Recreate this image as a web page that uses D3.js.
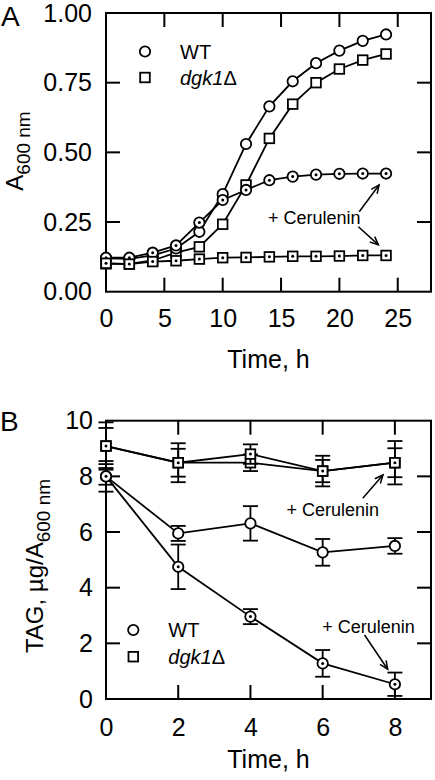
<!DOCTYPE html>
<html>
<head>
<meta charset="utf-8">
<script src="https://cdn.jsdelivr.net/npm/d3@7"></script>
<style>
  html, body { margin: 0; padding: 0; background: #fff; }
  svg { display: block; }
</style>
</head>
<body>
<svg id="chart" width="435" height="780"></svg>
<script>
// ---------- DATA ----------
// Panel A: growth (A600 nm) vs time, h
const timeA = [0, 2, 4, 6, 8, 10, 12, 14, 16, 18, 20, 22, 24];
const wtA      = [0.120, 0.118, 0.130, 0.155, 0.215, 0.350, 0.530, 0.665, 0.755, 0.820, 0.865, 0.900, 0.923];
const wtCerA   = [0.122, 0.122, 0.140, 0.166, 0.248, 0.329, 0.365, 0.400, 0.413, 0.420, 0.423, 0.424, 0.424];
const dgkA     = [0.100, 0.100, 0.112, 0.140, 0.161, 0.242, 0.383, 0.550, 0.673, 0.750, 0.799, 0.831, 0.853];
const dgkCerA  = [0.102, 0.099, 0.108, 0.111, 0.117, 0.122, 0.123, 0.125, 0.127, 0.127, 0.128, 0.130, 0.130];
const xTicksA = [0, 5, 10, 15, 20, 25];
const yTicksA = [0, 0.25, 0.50, 0.75, 1.00];

// Panel B: TAG, µg/A600 nm vs time, h (mean ± error)
const timeB = [0, 2, 4, 6, 8];
const wtB        = [8.00, 5.95, 6.31, 5.27, 5.50];
const wtBErr     = [0.55, 0.27, 0.62, 0.48, 0.28];
const wtCerB     = [8.00, 4.75, 2.96, 1.28, 0.53];
const wtCerBErr  = [0.30, 0.80, 0.27, 0.48, 0.42];
const dgkB       = [9.09, 8.49, 8.49, 8.19, 8.49];
const dgkBErr    = [0.65, 0.50, 0.30, 0.40, 0.52];
const dgkCerB    = [9.09, 8.49, 8.80, 8.19, 8.49];
const dgkCerBErr = [0.85, 0.70, 0.35, 0.55, 0.78];
const xTicksB = [0, 2, 4, 6, 8];
const yTicksB = [0, 2, 4, 6, 8, 10];

const legendLabels = ["WT", "dgk1", "Δ"];
const annotation = "+ Cerulenin";

// ---------- LAYOUT ----------
const FONT = "'Liberation Sans', Arial, Helvetica, sans-serif";
const svg = d3.select("#chart");
const SW = 2;      // axis stroke
const LW = 1.8;    // data line stroke
const TICK = 14;

function panel(cfg) {
  const g = svg.append("g");
  const x = d3.scaleLinear().domain(cfg.xDomain).range([cfg.left, cfg.right]);
  const y = d3.scaleLinear().domain(cfg.yDomain).range([cfg.bottom, cfg.top]);

  const xt = cfg.xTicks, yt = cfg.yTicks;
  const xIn = xt.filter(v => v > cfg.xDomain[0] && v < cfg.xDomain[1]);
  const yIn = yt.filter(v => v > cfg.yDomain[0] && v < cfg.yDomain[1]);

  const ax = g.append("g").attr("transform", `translate(0,${cfg.bottom})`)
    .call(d3.axisBottom(x).tickValues(xt).tickSize(0).tickPadding(cfg.xPad).tickFormat(cfg.xFmt));
  const ay = g.append("g").attr("transform", `translate(${cfg.left},0)`)
    .call(d3.axisLeft(y).tickValues(yt).tickSize(0).tickPadding(cfg.yPad).tickFormat(cfg.yFmt));
  [ax, ay].forEach(a => {
    a.select(".domain").remove();
    a.selectAll("text").attr("font-family", FONT).attr("font-size", 25).attr("fill", "#000");
  });
  const tk = g.append("g").attr("stroke", "#000").attr("stroke-width", SW);
  xIn.forEach(v => {
    tk.append("line").attr("x1", x(v)).attr("x2", x(v)).attr("y1", cfg.bottom).attr("y2", cfg.bottom - TICK);
    tk.append("line").attr("x1", x(v)).attr("x2", x(v)).attr("y1", cfg.top).attr("y2", cfg.top + TICK);
  });
  yIn.forEach(v => {
    tk.append("line").attr("y1", y(v)).attr("y2", y(v)).attr("x1", cfg.left).attr("x2", cfg.left + TICK);
    tk.append("line").attr("y1", y(v)).attr("y2", y(v)).attr("x1", cfg.right).attr("x2", cfg.right - TICK);
  });
  g.append("rect").attr("x", cfg.left).attr("y", cfg.top)
    .attr("width", cfg.right - cfg.left).attr("height", cfg.bottom - cfg.top)
    .attr("fill", "none").attr("stroke", "#000").attr("stroke-width", SW);

  g.append("text").attr("x", (cfg.left + cfg.right) / 2).attr("y", cfg.xTitleY)
    .attr("text-anchor", "middle").attr("font-family", FONT).attr("font-size", 25)
    .text("Time, h");
  g.append("text").attr("x", cfg.letterX).attr("y", cfg.letterY)
    .attr("font-family", FONT).attr("font-size", 28).text(cfg.letter);
  const yt2 = g.append("text")
    .attr("transform", `translate(${cfg.yTitleX},${cfg.yTitleY}) rotate(-90)`)
    .attr("text-anchor", "middle").attr("font-family", FONT).attr("font-size", 24);
  yt2.append("tspan").text(cfg.yTitleMain);
  yt2.append("tspan").attr("font-size", 19).attr("dy", 7).text("600 nm");

  return { g, x, y };
}

function marker(g, shape, cx, cy, dotted) {
  if (shape === "circle") {
    g.append("circle").attr("cx", cx).attr("cy", cy).attr("r", 5.2)
      .attr("fill", "#fff").attr("stroke", "#000").attr("stroke-width", LW);
  } else {
    const s = 9.6;
    g.append("rect").attr("x", cx - s / 2).attr("y", cy - s / 2).attr("width", s).attr("height", s)
      .attr("fill", "#fff").attr("stroke", "#000").attr("stroke-width", LW);
  }
  if (dotted) {
    g.append("circle").attr("cx", cx).attr("cy", cy).attr("r", 1.5).attr("fill", "#000");
  }
}

function series(p, xs, ys, shape, dotted, errs) {
  const line = d3.line().x((d, i) => p.x(xs[i])).y(d => p.y(d));
  p.g.append("path").attr("d", line(ys)).attr("fill", "none")
    .attr("stroke", "#000").attr("stroke-width", LW);
  if (errs) {
    const eg = p.g.append("g").attr("stroke", "#000").attr("stroke-width", LW);
    ys.forEach((v, i) => {
      const cx = p.x(xs[i]), lo = p.y(v - errs[i]), hi = p.y(v + errs[i]);
      eg.append("line").attr("x1", cx).attr("x2", cx).attr("y1", lo).attr("y2", hi);
      eg.append("line").attr("x1", cx - 7.5).attr("x2", cx + 7.5).attr("y1", lo).attr("y2", lo);
      eg.append("line").attr("x1", cx - 7.5).attr("x2", cx + 7.5).attr("y1", hi).attr("y2", hi);
    });
  }
  const mg = p.g.append("g");
  ys.forEach((v, i) => marker(mg, shape, p.x(xs[i]), p.y(v), dotted));
}

function arrow(p, from, to) {
  const x1 = p.x(from[0]), y1 = p.y(from[1]), x2 = p.x(to[0]), y2 = p.y(to[1]);
  const a = Math.atan2(y2 - y1, x2 - x1), L = 9, w = 0.42;
  const g = p.g.append("g").attr("stroke", "#000").attr("stroke-width", 1.5).attr("fill", "none");
  g.append("line").attr("x1", x1).attr("y1", y1).attr("x2", x2).attr("y2", y2);
  g.append("path").attr("d",
    `M${x2 - L * Math.cos(a - w)},${y2 - L * Math.sin(a - w)}L${x2},${y2}L${x2 - L * Math.cos(a + w)},${y2 - L * Math.sin(a + w)}`);
}

function note(p, t, v) {
  p.g.append("text").attr("x", p.x(t)).attr("y", p.y(v))
    .attr("font-family", FONT).attr("font-size", 18).text(annotation);
}

function legend(p, cx, cy1, cy2, tx) {
  marker(p.g, "circle", cx, cy1, false);
  marker(p.g, "square", cx, cy2, false);
  p.g.append("text").attr("x", tx).attr("y", cy1 + 7).attr("font-family", FONT)
    .attr("font-size", 20).text(legendLabels[0]);
  const t = p.g.append("text").attr("x", tx).attr("y", cy2 + 7).attr("font-family", FONT)
    .attr("font-size", 20);
  t.append("tspan").attr("font-style", "italic").text(legendLabels[1]);
  t.append("tspan").text(legendLabels[2]);
}

// ---------- PANEL A ----------
const A = panel({
  left: 106, right: 431, top: 13, bottom: 291.7,
  xDomain: [0, 27.85], yDomain: [0, 1],
  xTicks: xTicksA, yTicks: yTicksA,
  xFmt: d3.format("d"), yFmt: d3.format(".2f"),
  xPad: 18, yPad: 14, xTitleY: 367.5,
  letter: "A", letterX: 1, letterY: 26,
  yTitleX: 23, yTitleY: 151, yTitleMain: "A"
});
series(A, timeA, dgkA, "square", false);
series(A, timeA, wtA, "circle", false);
series(A, timeA, wtCerA, "circle", true);
series(A, timeA, dgkCerA, "square", true);
legend(A, 145, 51.5, 77.5, 180);
note(A, 13.88, 0.242);
arrow(A, [21.7, 0.287], [23.4, 0.383]);
arrow(A, [21.63, 0.233], [23.34, 0.168]);

// ---------- PANEL B ----------
const B = panel({
  left: 106, right: 431, top: 420.7, bottom: 699,
  xDomain: [0, 9], yDomain: [0, 10],
  xTicks: xTicksB, yTicks: yTicksB,
  xFmt: d3.format("d"), yFmt: d3.format("d"),
  xPad: 19, yPad: 13, xTitleY: 768,
  letter: "B", letterX: 0, letterY: 430.5,
  yTitleX: 43, yTitleY: 566, yTitleMain: "TAG, µg/A"
});
series(B, timeB, dgkB, "square", false, dgkBErr);
series(B, timeB, dgkCerB, "square", true, dgkCerBErr);
series(B, timeB, wtB, "circle", false, wtBErr);
series(B, timeB, wtCerB, "circle", true, wtCerBErr);
legend(B, 133.3, 630, 656.7, 168.3);
note(B, 5.0, 6.58);
note(B, 5.99, 2.38);
arrow(B, [7.11, 7.21], [7.67, 8.05]);
arrow(B, [7.16, 2.30], [7.80, 1.07]);
</script>
</body>
</html>
